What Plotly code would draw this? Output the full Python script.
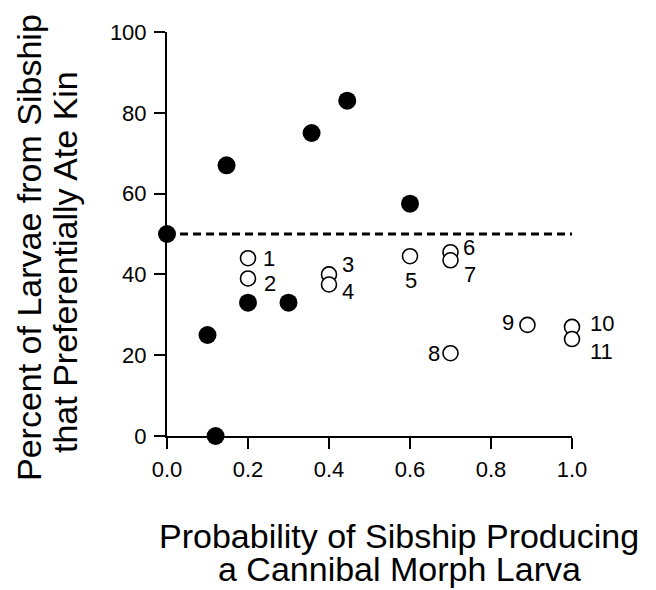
import plotly.graph_objects as go

# ---- data ----
filled_x = [0.0, 0.10, 0.12, 0.147, 0.20, 0.30, 0.357, 0.445, 0.60]
filled_y = [50, 25, 0, 67, 33, 33, 75, 83, 57.5]

open_x = [0.20, 0.20, 0.40, 0.40, 0.60, 0.70, 0.70, 0.70, 0.89, 1.00, 1.00]
open_y = [44, 39, 40, 37.5, 44.5, 45.5, 43.5, 20.5, 27.5, 27, 24]
open_labels = ["1", "2", "3", "4", "5", "6", "7", "8", "9", "10", "11"]

ref_line_y = 50
x_ticks = [0.0, 0.2, 0.4, 0.6, 0.8, 1.0]
x_tick_text = ["0.0", "0.2", "0.4", "0.6", "0.8", "1.0"]
y_ticks = [0, 20, 40, 60, 80, 100]

x_title = ["Probability of Sibship Producing", "a Cannibal Morph Larva"]
y_title = ["Percent of Larvae from Sibship", "that Preferentially Ate Kin"]

# ---- styling / layout ----
OFF = 8                      # page body margin
W, H = 656 - OFF, 590 - OFF
L = 167 - OFF
T = 32 - OFF
R = W - (572 - OFF)
B = H - (436 - OFF)
FONT = "Liberation Sans, Arial, Helvetica, sans-serif"
# label offsets in pixels (dx right, dy down)
label_offsets = [(21, 0), (22, 5), (19, -10), (19, 7), (1, 24), (18, -5),
                 (19, 14), (-17, 0), (-19, -2), (30, -3), (29, 12)]

plot_w = W - L - R
plot_h = H - T - B

def px_to_paper_x(px):          # px = screen pixel
    return (px - OFF - L) / plot_w

def px_to_paper_y(py):
    return (H - B - (py - OFF)) / plot_h

fig = go.Figure()

fig.add_shape(type="line", xref="x", yref="y", x0=0, x1=1.0,
              y0=ref_line_y, y1=ref_line_y,
              line=dict(color="black", width=3, dash="8px,5px"), layer="below")

fig.add_trace(go.Scatter(
    x=open_x, y=open_y, mode="markers",
    marker=dict(size=15, color="white", line=dict(color="black", width=1.6)),
    cliponaxis=False, showlegend=False, hoverinfo="skip"))

fig.add_trace(go.Scatter(
    x=filled_x, y=filled_y, mode="markers",
    marker=dict(size=18, color="black", line=dict(width=0)),
    cliponaxis=False, showlegend=False, hoverinfo="skip"))

annotations = []
for xv, yv, lab, (dx, dy) in zip(open_x, open_y, open_labels, label_offsets):
    annotations.append(dict(x=xv, y=yv, xref="x", yref="y", text=lab,
                            showarrow=False, xshift=dx, yshift=-dy,
                            xanchor="center", yanchor="middle",
                            font=dict(family=FONT, size=22, color="black")))

# axis titles as separate lines (tight leading)
for txt, py in zip(x_title, [536, 569]):
    annotations.append(dict(x=px_to_paper_x(399), y=px_to_paper_y(py),
                            xref="paper", yref="paper", text=txt,
                            showarrow=False, xanchor="center", yanchor="middle",
                            font=dict(family=FONT, size=34, color="black")))
for txt, px, py in zip(y_title, [29, 65], [248, 262]):
    annotations.append(dict(x=px_to_paper_x(px), y=px_to_paper_y(py),
                            xref="paper", yref="paper", text=txt, textangle=-90,
                            showarrow=False, xanchor="center", yanchor="middle",
                            font=dict(family=FONT, size=34, color="black")))

fig.update_layout(
    width=W, height=H,
    margin=dict(l=L, r=R, t=T, b=B, pad=0),
    paper_bgcolor="white", plot_bgcolor="white",
    annotations=annotations,
    font=dict(family=FONT, color="black"),
)

fig.update_xaxes(range=[0, 1.0], tickvals=x_ticks, ticktext=x_tick_text,
                 showline=True, linecolor="black", linewidth=2,
                 ticks="outside", ticklen=11, tickwidth=2, tickcolor="black",
                 showgrid=False, zeroline=False, ticklabelstandoff=2,
                 tickfont=dict(family=FONT, size=22, color="black"))
fig.update_yaxes(range=[0, 100], tickvals=y_ticks,
                 showline=True, linecolor="black", linewidth=2,
                 ticks="outside", ticklen=11, tickwidth=2, tickcolor="black",
                 showgrid=False, zeroline=False, ticklabelstandoff=3,
                 tickfont=dict(family=FONT, size=22, color="black"))

fig.write_html("out.html")
